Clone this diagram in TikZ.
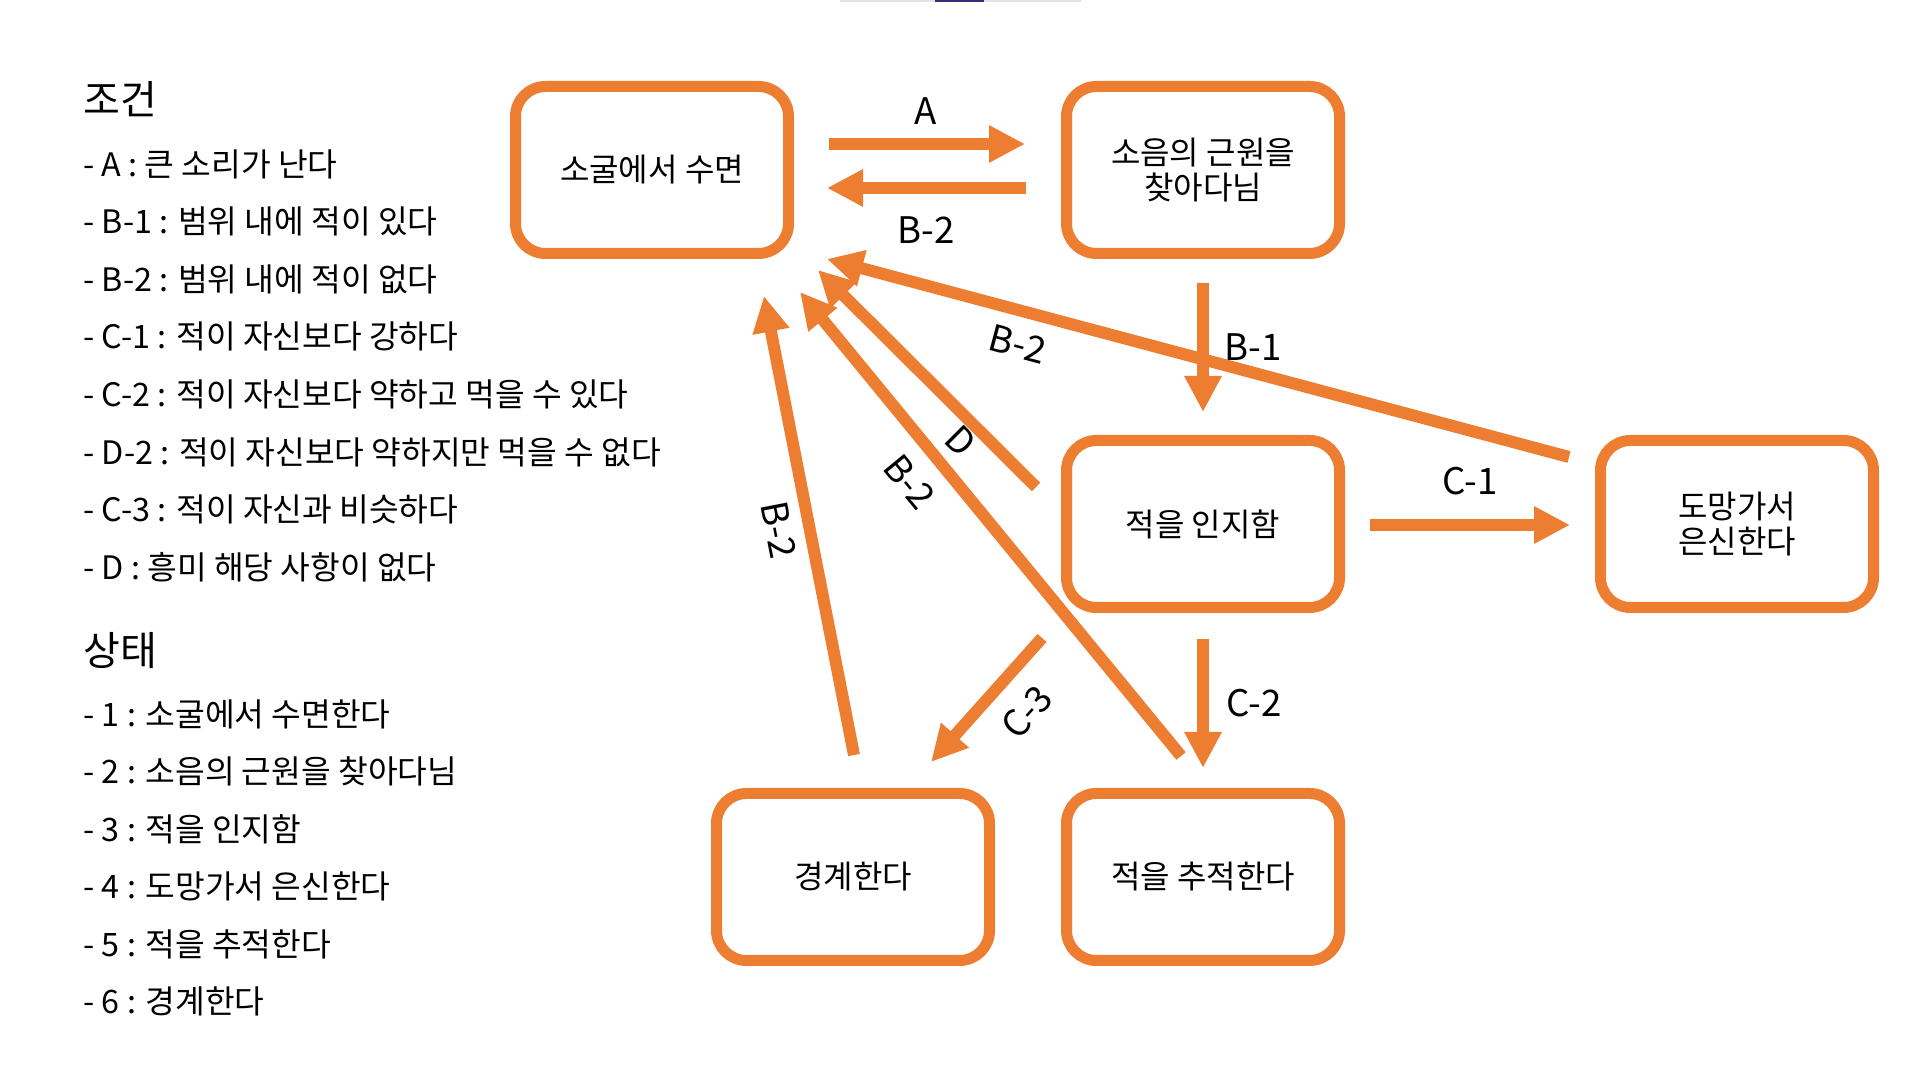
\documentclass[tikz,border=0pt]{standalone}
\usepackage{fontspec}
\setmainfont{Noto Sans CJK KR}
\usetikzlibrary{arrows.meta,calc}
\definecolor{org}{HTML}{ED7D31}
\definecolor{barg}{HTML}{E3E3E6}
\definecolor{barp}{HTML}{3D2A7A}
\begin{document}
\begin{tikzpicture}[x=0.5pt,y=0.5pt,
  box/.style={draw=org, line width=5.5pt, rounded corners=15pt, minimum width=136.5pt, minimum height=83.5pt, align=center, inner sep=0pt, font=\fontsize{16}{17.75}\selectfont},
  arr/.style={draw=org, line width=6pt, -{Triangle[length=18pt,width=17.5pt]}},
  lbl/.style={font=\fontsize{18.3}{21}\selectfont, inner sep=0pt},
  item/.style={anchor=west, inner sep=0pt, font=\fontsize{16.15}{19}\selectfont, text height=0.8em, text depth=0.1em},
  head/.style={anchor=west, inner sep=0pt, font=\fontsize{20}{23}\selectfont, text height=0.8em, text depth=0.1em}]
\useasboundingbox (0,0) rectangle (1920,1080);
\fill[white] (0,0) rectangle (1920,1080);
% top bar
\fill[barg] (840,1078) rectangle (1081,1080);
\fill[barp] (935,1078) rectangle (984,1080);

% legend
\node[head] (c0) at (83,972) {조건};
\node[item] (c1) at (83,910) {- A : 큰 소리가 난다};
\node[item] (c2) at (83,853) {- B-1 : 범위 내에 적이 있다};
\node[item] (c3) at (83,795) {- B-2 : 범위 내에 적이 없다};
\node[item] (c4) at (83,738) {- C-1 : 적이 자신보다 강하다};
\node[item] (c5) at (83,680) {- C-2 : 적이 자신보다 약하고 먹을 수 있다};
\node[item] (c6) at (83,622) {- D-2 : 적이 자신보다 약하지만 먹을 수 없다};
\node[item] (c7) at (83,565) {- C-3 : 적이 자신과 비슷하다};
\node[item] (c8) at (83,507) {- D : 흥미 해당 사항이 없다};
\node[head] (s0) at (83,421) {상태};
\node[item] (s1) at (83,360) {- 1 : 소굴에서 수면한다};
\node[item] (s2) at (83,303) {- 2 : 소음의 근원을 찾아다님};
\node[item] (s3) at (83,245) {- 3 : 적을 인지함};
\node[item] (s4) at (83,188) {- 4 : 도망가서 은신한다};
\node[item] (s5) at (83,130) {- 5 : 적을 추적한다};
\node[item] (s6) at (83,73) {- 6 : 경계한다};

% boxes
\node[box] (B1) at (652,910) {소굴에서 수면};
\node[box] (B2) at (1203,910) {소음의 근원을\\찾아다님};
\node[box] (B3) at (1203,556) {적을 인지함};
\node[box] (B4) at (1737,556) {도망가서\\은신한다};
\node[box] (B5) at (1203,203) {적을 추적한다};
\node[box] (B6) at (853,203) {경계한다};

% arrows
\draw[arr] ($(B1)+(177,26)$) -- ($(B2)+(-178,26)$);
\draw[arr] ($(B2)+(-177,-18)$) -- ($(B1)+(175,-18)$);
\draw[arr] ($(B2)+(0,-113)$) -- ($(B3)+(0,112)$);
\draw[arr] ($(B3)+(0,-115)$) -- ($(B5)+(0,109)$);
\draw[arr] ($(B3)+(167,-1)$) -- ($(B4)+(-167,-1)$);
\draw[arr] ($(B4)+(-168,67)$) -- ($(B1)+(175,-89)$);
\draw[arr] ($(B3)+(-167,37)$) -- ($(B1)+(166,-100)$);
\draw[arr] ($(B5)+(-22,121)$) -- ($(B1)+(148,-122)$);
\draw[arr] ($(B6)+(1,122)$) -- ($(B1)+(112,-126)$);
\draw[arr] ($(B3)+(-161,-114)$) -- ($(B6)+(78,115)$);

% labels
\node[lbl] (lA) at (926,969) {A};
\node[lbl] (lB2a) at (926,850) {B-2};
\node[lbl] (lB1) at (1253,733) {B-1};
\node[lbl] (lC2) at (1254,377) {C-2};
\node[lbl] (lC1) at (1470,599) {C-1};
\node[lbl, rotate=-15] (lB2b) at (1018,736) {B-2};
\node[lbl, rotate=-45] (lD) at (961,639) {D};
\node[lbl, rotate=-50.6] (lB2c) at (910,598) {B-2};
\node[lbl, rotate=-79] (lB2d) at (779,550) {B-2};
\node[lbl, rotate=48] (lC3) at (1027,368) {C-3};
\end{tikzpicture}
\end{document}
